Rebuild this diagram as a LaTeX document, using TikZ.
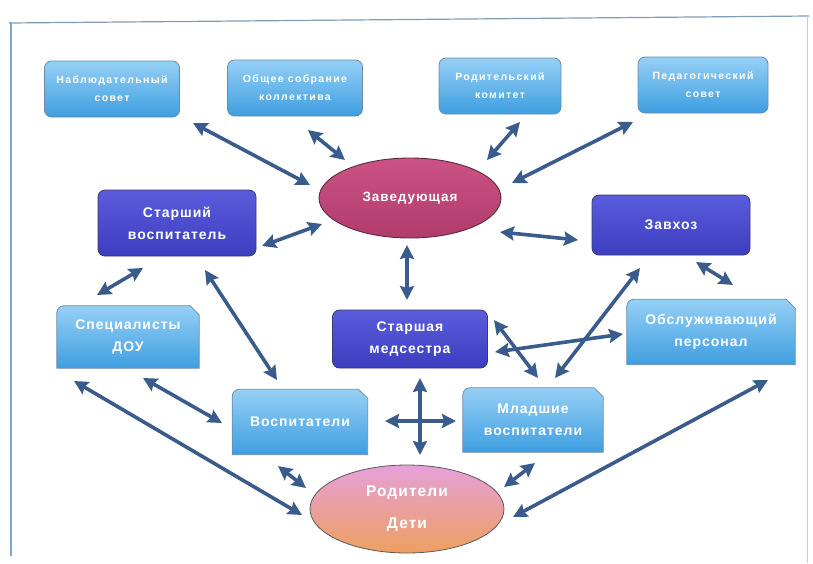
\documentclass[tikz,border=0pt]{standalone}
\usepackage{fontspec}
\setmainfont{Liberation Sans}
\newfontfamily\topfnt[LetterSpace=13]{Liberation Sans}
\newfontfamily\mainfnt[LetterSpace=7]{Liberation Sans}
\usetikzlibrary{arrows.meta,shapes.geometric,calc}
\definecolor{arrc}{HTML}{3A5C8C}
\definecolor{lbtop}{HTML}{96D0F6}
\definecolor{lbbot}{HTML}{3E9EE0}
\definecolor{lbedge}{HTML}{6C8AA8}
\definecolor{dbtop}{HTML}{5A5CDC}
\definecolor{dbbot}{HTML}{3C3EC0}
\definecolor{dbedge}{HTML}{3A3A6A}
\definecolor{zvtop}{HTML}{CC5284}
\definecolor{zvbot}{HTML}{B03C6C}
\definecolor{zvedge}{HTML}{5A2A40}
\definecolor{rdtop}{HTML}{E6A0DA}
\definecolor{rdmid}{HTML}{EE94C2}
\definecolor{rdbot}{HTML}{EEA060}
\definecolor{framec}{HTML}{7FA6CC}
\pgfdeclarelayer{bg}
\pgfsetlayers{bg,main}
\newcommand\cutbg[1]{%
  \begin{pgfonlayer}{bg}
  \path[cutfill] (#1.south west) -- ([yshift=-7pt]#1.north west) to[out=90,in=180] ([xshift=7pt]#1.north west)
     -- ([xshift=-9pt]#1.north east) -- ([yshift=-9pt]#1.north east) -- (#1.south east) -- cycle;
  \end{pgfonlayer}}
\begin{document}
\begin{tikzpicture}[x=1pt,y=-1pt,
  txt/.style={text=white, align=center, inner sep=0pt},
  topbox/.style={txt, draw=lbedge, line width=0.8pt, top color=lbtop, bottom color=lbbot, rounded corners=7pt,
     font=\topfnt\bfseries\fontsize{10.5}{18}\selectfont, minimum height=56pt},
  darkbox/.style={txt, draw=dbedge, line width=0.8pt, top color=dbtop, bottom color=dbbot, rounded corners=7pt,
     font=\mainfnt\bfseries\fontsize{14}{22}\selectfont},
  cutbox/.style={txt, font=\mainfnt\bfseries\fontsize{14}{22}\selectfont},
  cutfill/.style={draw=lbedge, line width=0.8pt, top color=lbtop, bottom color=lbbot},
  arr/.style={draw=arrc, line width=3.6pt, {Stealth[length=14pt,width=14pt,inset=2pt]}-{Stealth[length=14pt,width=14pt,inset=2pt]}}
]
\useasboundingbox (0,0) rectangle (813,563);
% frame
\draw[framec!70!gray, line width=1.2pt] (9,23) -- (809,16);
\draw[framec, line width=1.6pt] (11,22) -- (11,556);
\draw[gray!40, line width=1pt] (807,16) -- (807,563);

% top boxes
\node[topbox, minimum width=135pt] (nab) at (112,89) {Наблюдательный\\совет};
\node[topbox, minimum width=135pt] (obsh) at (295,88) {Общее собрание\\коллектива};
\node[topbox, minimum width=122pt] (rod) at (500,86) {Родительский\\комитет};
\node[topbox, minimum width=130pt] (ped) at (703,85) {Педагогический\\совет};

% ellipses
\node[ellipse, draw=zvedge, line width=0.9pt, top color=zvtop, bottom color=zvbot, minimum width=182pt, minimum height=80pt,
  text=white, font=\mainfnt\bfseries\fontsize{13.5}{22}\selectfont] (zav) at (410,198) {Заведующая};
\node[ellipse, draw=gray!70!black, line width=0.8pt, top color=rdtop, middle color=rdmid, bottom color=rdbot,
  minimum width=194pt, minimum height=88pt, text=white, align=center,
  font=\mainfnt\bfseries\fontsize{15.5}{32}\selectfont] (rodi) at (407,509) {Родители\\Дети};

% dark boxes
\node[darkbox, minimum width=158pt, minimum height=66pt] (stv) at (177,223) {Старший\\воспитатель};
\node[darkbox, minimum width=158pt, minimum height=60pt] (zavh) at (671,225) {Завхоз};
\node[darkbox, minimum width=155pt, minimum height=58pt] (med) at (410,339) {Старшая\\медсестра};

% cut-corner boxes
\node[cutbox, minimum width=142pt, minimum height=62pt] (spec) at (128,337) {Специалисты\\ДОУ};
\cutbg{spec}
\node[cutbox, minimum width=168pt, minimum height=65pt] (obsl) at (711,332) {Обслуживающий\\персонал};
\cutbg{obsl}
\node[cutbox, minimum width=135pt, minimum height=65pt] (vosp) at (300,422) {Воспитатели};
\cutbg{vosp}
\node[cutbox, minimum width=140pt, minimum height=64pt] (mlv) at (533,420) {Младшие\\воспитатели};
\cutbg{mlv}

% connectors
\draw[arr] ($(nab)+(81,34)$) -- ($(zav)+(-100,-13)$);
\draw[arr] ($(obsh)+(13,42)$) -- ($(zav)+(-65,-38)$);
\draw[arr] ($(rod)+(20,36)$) -- ($(zav)+(77,-38)$);
\draw[arr] ($(ped)+(-70,37)$) -- ($(zav)+(102,-15)$);
\draw[arr] ($(stv)+(85,23)$) -- ($(zav)+(-88,26)$);
\draw[arr] ($(zav)+(90,34)$) -- ($(zavh)+(-93,15)$);
\draw[arr] ($(zav)+(-3,47)$) -- ($(med)+(-3,-39)$);
\draw[arr] ($(spec)+(-31,-42)$) -- ($(stv)+(-34,45)$);
\draw[arr] ($(stv)+(28,47)$) -- ($(vosp)+(-23,-42)$);
\draw[arr] ($(zavh)+(-31,43)$) -- ($(mlv)+(22,-42)$);
\draw[arr] ($(zavh)+(25,37)$) -- ($(obsl)+(22,-47)$);
\draw[arr] ($(med)+(84,-19)$) -- ($(mlv)+(5,-42)$);
\draw[arr] ($(med)+(85,13)$) -- ($(obsl)+(-88,2)$);
\draw[arr] ($(med)+(10,39)$) -- ($(rodi)+(13,-54)$);
\draw[arr] ($(vosp)+(85,-1)$) -- ($(mlv)+(-77,1)$);
\draw[arr] ($(spec)+(15,41)$) -- ($(vosp)+(-78,1)$);
\draw[arr] ($(spec)+(-54,44)$) -- ($(rodi)+(-105,6)$);
\draw[arr] ($(vosp)+(-22,44)$) -- ($(rodi)+(-101,-21)$);
\draw[arr] ($(mlv)+(2,43)$) -- ($(rodi)+(97,-22)$);
\draw[arr] ($(obsl)+(57,48)$) -- ($(rodi)+(106,8)$);
\end{tikzpicture}
\end{document}
